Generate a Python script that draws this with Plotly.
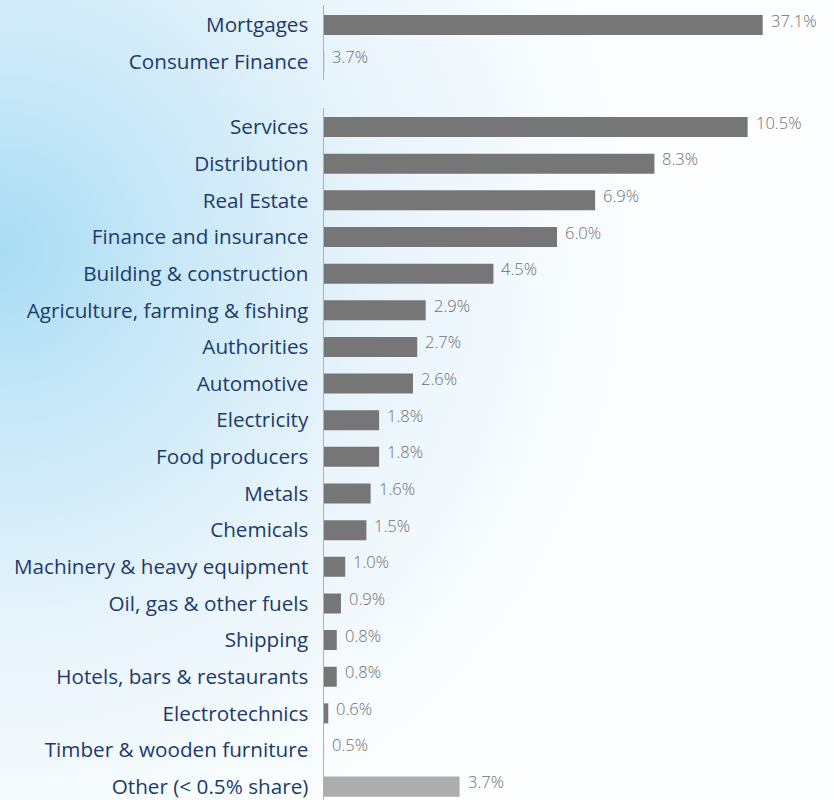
import base64
import plotly.graph_objects as go

# ---- data ----
top_categories = ["Mortgages", "Consumer Finance"]
top_values = [37.1, 3.7]

sector_categories = [
    "Services", "Distribution", "Real Estate", "Finance and insurance",
    "Building & construction", "Agriculture, farming & fishing", "Authorities",
    "Automotive", "Electricity", "Food producers", "Metals", "Chemicals",
    "Machinery & heavy equipment", "Oil, gas & other fuels", "Shipping",
    "Hotels, bars & restaurants", "Electrotechnics", "Timber & wooden furniture",
    "Other (< 0.5% share)",
]
sector_values = [10.5, 8.3, 6.9, 6.0, 4.5, 2.9, 2.7, 2.6, 1.8, 1.8, 1.6, 1.5,
                 1.0, 0.9, 0.8, 0.8, 0.6, 0.5, 3.7]

# ---- styles ----
BAR = "#767676"
BAR_OTHER = "#adadad"
LABEL = "#1d3b68"
VALUE = "#6e6e6e"
AXIS_LINE = "#9fb5cc"
FONT = "Open Sans"
W, H = 834, 800

sector_colors = [BAR_OTHER if c.startswith("Other") else BAR for c in sector_categories]

# background gradient (decoration)
svg = f'''<svg xmlns="http://www.w3.org/2000/svg" width="{W}" height="{H}" viewBox="0 0 {W} {H}" preserveAspectRatio="none">
<defs><radialGradient id="g" gradientUnits="userSpaceOnUse" cx="0" cy="250" r="640">
<stop offset="0" stop-color="#a9dcf4"/>
<stop offset="0.28" stop-color="#c9e8f8"/>
<stop offset="0.6" stop-color="#e8f4fb"/>
<stop offset="1" stop-color="#fcfeff"/>
</radialGradient></defs>
<rect width="{W}" height="{H}" fill="#ffffff"/>
<rect width="{W}" height="{H}" fill="url(#g)"/>
</svg>'''
bg_src = "data:image/svg+xml;base64," + base64.b64encode(svg.encode()).decode()

fig = go.Figure()
fig.add_trace(go.Bar(x=top_values, y=top_categories, orientation="h",
                     marker=dict(color=BAR, line_width=0), width=0.546,
                     xaxis="x", yaxis="y", hoverinfo="skip"))
fig.add_trace(go.Bar(x=sector_values, y=sector_categories, orientation="h",
                     marker=dict(color=sector_colors, line_width=0), width=0.546,
                     xaxis="x2", yaxis="y2", hoverinfo="skip"))

value_font = dict(family=FONT, size=16.5, color=VALUE, weight=300)
annotations = []
for c, v in zip(top_categories, top_values):
    annotations.append(dict(x=v, y=c, xref="x", yref="y", text=f"{v:.1f}%",
                            showarrow=False, xanchor="left", yanchor="middle",
                            xshift=6, yshift=5, font=value_font))
for c, v in zip(sector_categories, sector_values):
    annotations.append(dict(x=v, y=c, xref="x2", yref="y2", text=f"{v:.1f}%",
                            showarrow=False, xanchor="left", yanchor="middle",
                            xshift=6, yshift=5, font=value_font))

x_dom = [324 / W, 1]
axis_common = dict(showgrid=False, zeroline=False, showticklabels=False, ticks="",
                   showline=False, fixedrange=True)
yaxis_common = dict(type="category", showgrid=False, zeroline=False, ticks="",
                    showline=True, linecolor=AXIS_LINE, linewidth=1.5,
                    ticklabelstandoff=10, fixedrange=True,
                    tickfont=dict(family=FONT, size=20.7, color=LABEL))

fig.update_layout(
    width=W, height=H,
    margin=dict(l=0, r=0, t=0, b=0),
    paper_bgcolor="white", plot_bgcolor="rgba(0,0,0,0)",
    showlegend=False, barmode="overlay",
    font=dict(family=FONT),
    xaxis=dict(domain=x_dom, range=[3.69, 42.53], anchor="y", **axis_common),
    yaxis=dict(domain=[1 - 80 / H, 1 - 5 / H], anchor="x",
               categoryorder="array", categoryarray=top_categories,
               range=[1.5, -0.546], **yaxis_common),
    xaxis2=dict(domain=x_dom, range=[0.499, 12.54], anchor="y2", **axis_common),
    yaxis2=dict(domain=[0, 1 - 108 / H], anchor="x2",
                categoryorder="array", categoryarray=sector_categories,
                range=[18.365, -0.521], **yaxis_common),
    annotations=annotations,
    images=[dict(source=bg_src, xref="paper", yref="paper", x=0, y=1,
                 sizex=1, sizey=1, sizing="stretch", layer="below",
                 xanchor="left", yanchor="top")],
)

fig.write_html("out.html", config={"displayModeBar": False, "staticPlot": True},
               post_script="document.body.style.margin='0';document.body.style.overflow='hidden';")
